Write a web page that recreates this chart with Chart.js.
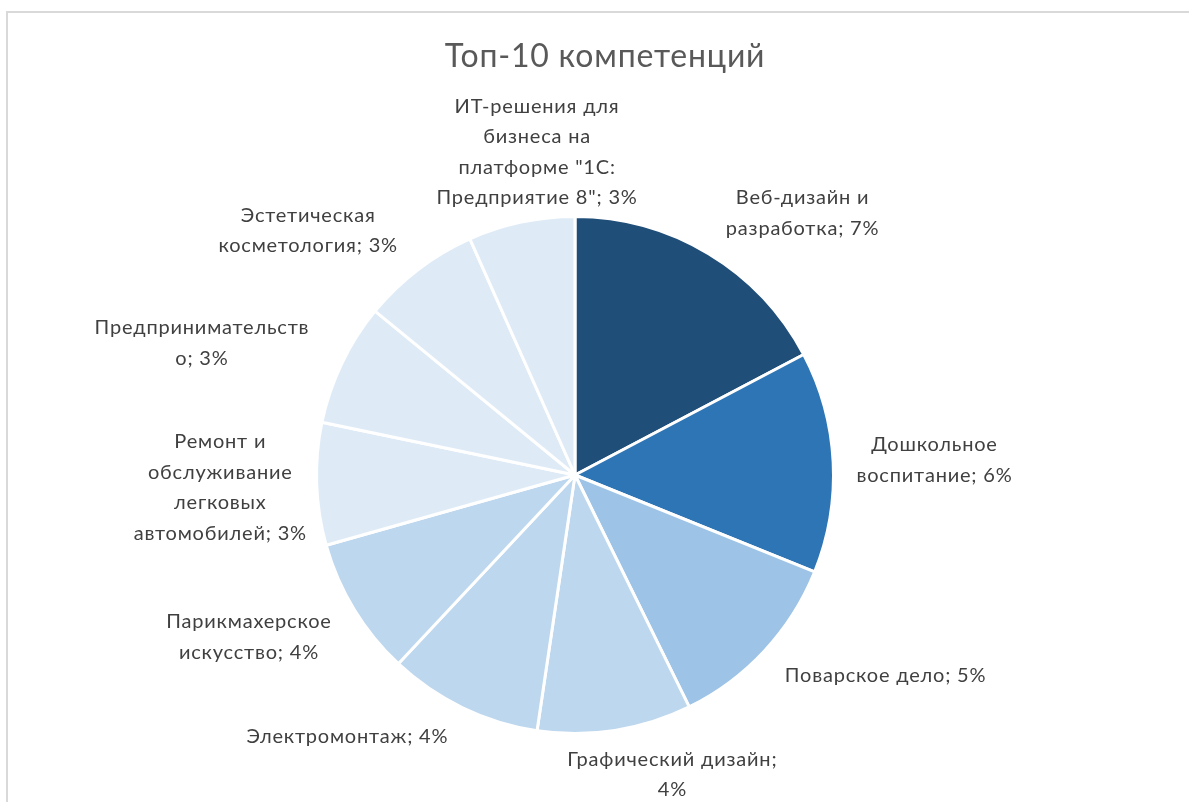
<!DOCTYPE html>
<html>
<head>
<meta charset="utf-8">
<script src="https://cdn.jsdelivr.net/npm/chart.js@4"></script>
<style>
  html, body { margin: 0; padding: 0; background: #fff; overflow: hidden; }
  #frame { position: absolute; left: 6px; top: 11px; width: 1400px; height: 1000px; border: 2px solid #d9d9d9; box-sizing: border-box; }
  #wrap { position: absolute; left: 0; top: 0; width: 1189px; height: 802px; }
</style>
</head>
<body>
<div id="frame"></div>
<div id="wrap"><canvas id="c" width="1189" height="802"></canvas></div>
<script>
// ---- data ----
const chartTitle = "Топ-10 компетенций";
const categories = [
  "Веб-дизайн и разработка",
  "Дошкольное воспитание",
  "Поварское дело",
  "Графический дизайн",
  "Электромонтаж",
  "Парикмахерское искусство",
  "Ремонт и обслуживание легковых автомобилей",
  "Предпринимательство",
  "Эстетическая косметология",
  "ИТ-решения для бизнеса на платформе \"1С: Предприятие 8\""
];
const shares = [7.0, 5.6, 4.7, 3.9, 3.9, 3.5, 3.1, 3.1, 3.0, 2.7];
// wrapped label text ({p} is replaced by the rounded share)
const labelTexts = [
  "Веб-дизайн и\nразработка; {p}%",
  "Дошкольное\nвоспитание; {p}%",
  "Поварское дело; {p}%",
  "Графический дизайн;\n{p}%",
  "Электромонтаж; {p}%",
  "Парикмахерское\nискусство; {p}%",
  "Ремонт и\nобслуживание\nлегковых\nавтомобилей; {p}%",
  "Предпринимательств\nо; {p}%",
  "Эстетическая\nкосметология; {p}%",
  "ИТ-решения для\nбизнеса на\nплатформе \"1С:\nПредприятие 8\"; {p}%"
];
const sliceColors = ["#1f4e79", "#2e75b6", "#9dc3e6", "#bdd7ee", "#bdd7ee", "#bdd7ee", "#deebf7", "#deebf7", "#deebf7", "#deebf7"];

// label placement (polar, relative to pie centre: angle from top in degrees, distance in radii)
const labelPolar = [
  [41, 1.342], [87.6, 1.392], [122.9, 1.431], [162, 1.219], [221, 1.342],
  [243.6, 1.408], [268, 1.373], [289.5, 1.531], [312.5, 1.40], [353.3, 1.258]
];

const FONT = "Lato, 'Open Sans', sans-serif";

const outsideLabels = {
  id: 'outsideLabels',
  afterDatasetsDraw(chart) {
    const ctx = chart.ctx;
    const meta = chart.getDatasetMeta(0);
    const arc0 = meta.data[0];
    const cx = arc0.x, cy = arc0.y, r = arc0.outerRadius;
    ctx.save();
    ctx.fillStyle = '#404040';
    ctx.font = "20px " + FONT;
    ctx.letterSpacing = '0.8px';
    ctx.textAlign = 'center';
    ctx.textBaseline = 'middle';
    const lh = 30.5;
    meta.data.forEach((arc, i) => {
      const p = Math.round(chart.data.datasets[0].data[i]);
      const lines = labelTexts[i].replace('{p}', p).split('\n');
      const a = labelPolar[i][0] * Math.PI / 180;
      const d = labelPolar[i][1] * r;
      const x = cx + d * Math.sin(a);
      const y = cy - d * Math.cos(a);
      const y0 = y - (lines.length - 1) * lh / 2;
      lines.forEach((ln, k) => ctx.fillText(ln, x, y0 + k * lh));
    });
    // title
    ctx.fillStyle = '#595959';
    ctx.font = "32px " + FONT;
    ctx.letterSpacing = '0.8px';
    ctx.fillText(chartTitle, 605, 57);
    ctx.restore();
  }
};

new Chart(document.getElementById('c'), {
  type: 'pie',
  data: {
    labels: categories,
    datasets: [{
      data: shares,
      backgroundColor: sliceColors,
      borderColor: '#ffffff',
      borderWidth: 3
    }]
  },
  options: {
    responsive: false,
    animation: false,
    layout: { padding: { left: 300, right: 339, top: 215, bottom: 67 } },
    plugins: {
      legend: { display: false },
      title: { display: false },
      tooltip: { enabled: false }
    }
  },
  plugins: [outsideLabels]
});
</script>
</body>
</html>
